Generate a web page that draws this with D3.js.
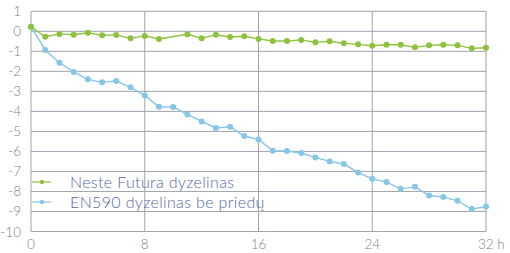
<!DOCTYPE html>
<html><head><meta charset="utf-8">
<script src="https://cdn.jsdelivr.net/npm/d3@7"></script>
<style>body{margin:0;background:#fff}svg{display:block}text{font-family:Lato,"Open Sans",sans-serif;font-weight:300}</style>
</head><body><svg id="c" width="510" height="253"></svg>
<script>
const hoursGreen = [0,1,2,3,4,5,6,7,8,9,11,12,13,14,15,16,17,18,19,20,21,22,23,24,25,26,27,28,29,30,31,32];
const neste = [0.23,-0.27,-0.13,-0.17,-0.07,-0.2,-0.18,-0.35,-0.23,-0.38,-0.15,-0.35,-0.17,-0.28,-0.25,-0.38,-0.48,-0.48,-0.43,-0.55,-0.5,-0.6,-0.65,-0.72,-0.67,-0.67,-0.8,-0.7,-0.67,-0.7,-0.85,-0.82];
const hoursBlue = d3.range(0,33);
const en590 = [0.23,-0.93,-1.57,-2.03,-2.4,-2.55,-2.48,-2.8,-3.2,-3.77,-3.78,-4.15,-4.5,-4.83,-4.77,-5.23,-5.4,-5.97,-5.98,-6.08,-6.3,-6.5,-6.63,-7.05,-7.37,-7.53,-7.87,-7.77,-8.2,-8.28,-8.47,-8.88,-8.75];
const xTicks = [0,8,16,24,32];
const xTickLabels = ["0","8","16","24","32 h"];
const yTicks = d3.range(1,-11,-1);
const seriesNames = ["Neste Futura dyzelinas","EN590 dyzelinas be priedų"];
const colors = ["#8dc23f","#86c6e6"];

const svg = d3.select("#c");
const x = d3.scaleLinear().domain([0,32]).range([31,486]);
const y = d3.scaleLinear().domain([1,-10]).range([11.3,231.5]);
const grid = "#a0a4ab";

svg.append("g").selectAll("line").data(yTicks).join("line")
  .attr("x1",x(0)).attr("x2",x(32)).attr("y1",d=>y(d)).attr("y2",d=>y(d))
  .attr("stroke",grid).attr("stroke-width",1);
svg.append("g").selectAll("line").data(xTicks).join("line")
  .attr("x1",d=>x(d)).attr("x2",d=>x(d)).attr("y1",y(1)).attr("y2",y(-10))
  .attr("stroke",grid).attr("stroke-width",1);

svg.append("g").selectAll("text").data(yTicks).join("text")
  .attr("x",21).attr("y",d=>y(d)+5).attr("text-anchor","end")
  .attr("font-size",13.5).attr("fill","#7a7f8c").text(d=>d);
svg.append("g").selectAll("text").data(xTicks).join("text")
  .attr("x",d=>x(d)).attr("y",249).attr("text-anchor",(d,i)=>i===xTicks.length-1?"start":"middle")
  .attr("dx",(d,i)=>i===xTicks.length-1?-8:0)
  .attr("font-size",13.5).attr("fill","#7a7f8c").text((d,i)=>xTickLabels[i]);

function drawSeries(hours, vals, color){
  const pts = hours.map((h,i)=>[h,vals[i]]);
  svg.append("path").datum(pts)
    .attr("d",d3.line().x(d=>x(d[0])).y(d=>y(d[1])))
    .attr("fill","none").attr("stroke",color).attr("stroke-width",1.4);
  svg.append("g").selectAll("circle").data(pts).join("circle")
    .attr("cx",d=>x(d[0])).attr("cy",d=>y(d[1])).attr("r",3).attr("fill",color);
}
drawSeries(hoursBlue,en590,colors[1]);
drawSeries(hoursGreen,neste,colors[0]);

const leg = svg.append("g");
seriesNames.forEach((n,i)=>{
  const ly = 182 + i*20;
  leg.append("line").attr("x1",32).attr("x2",51).attr("y1",ly).attr("y2",ly).attr("stroke",colors[i]).attr("stroke-width",1.2);
  leg.append("circle").attr("cx",42).attr("cy",ly).attr("r",2.2).attr("fill",colors[i]);
  leg.append("text").attr("x",70).attr("y",ly+5.5).attr("font-size",16).attr("letter-spacing",0.35).attr("fill","#5468a8").text(n);
});
</script></body></html>
